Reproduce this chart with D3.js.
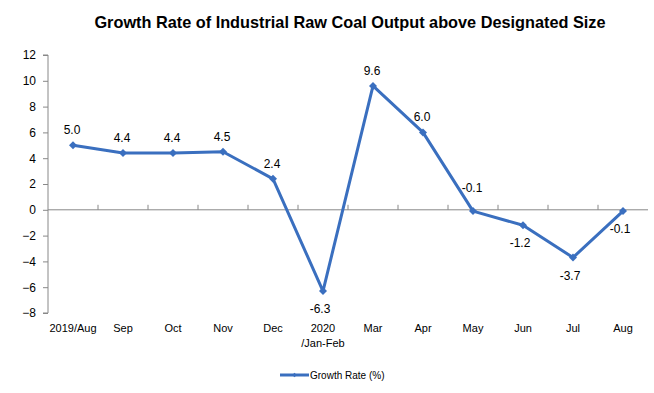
<!DOCTYPE html>
<html>
<head>
	<meta charset="utf-8">
	<title>Growth Rate of Industrial Raw Coal Output</title>
	<script type="text/javascript" src="https://cdn.jsdelivr.net/npm/d3@7"></script>
	<style type="text/css">
		body { margin: 0; background: #fff; }
		text { font-family: "Liberation Sans", Arial, sans-serif; fill: #000; }
		.narrow { font-family: "Liberation Sans Narrow", "Arial Narrow", "Liberation Sans", sans-serif; }
	</style>
</head>
<body>
	<div id="chart"></div>
	<script type="text/javascript">
		// data
		const months = ["2019/Aug", "Sep", "Oct", "Nov", "Dec", "2020\n/Jan-Feb", "Mar", "Apr", "May", "Jun", "Jul", "Aug"];
		const growth = [5.0, 4.4, 4.4, 4.5, 2.4, -6.3, 9.6, 6.0, -0.1, -1.2, -3.7, -0.1];
		// where each value label sits relative to its point
		const labelPlace = ["above", "above", "above", "above", "above", "below", "above", "above", "high", "below", "below", "below"];
		const yTicks = [-8, -6, -4, -2, 0, 2, 4, 6, 8, 10, 12];

		const width = 654, height = 393;
		const margin = {top: 55, right: 6, bottom: 80, left: 48};
		const lineColor = "#3a6fbf";

		const svg = d3.select("#chart").append("svg")
			.attr("width", width)
			.attr("height", height);

		const x = d3.scaleBand()
			.domain(months)
			.range([margin.left, width - margin.right]);

		const y = d3.scaleLinear()
			.domain([-8, 12])
			.range([height - margin.bottom, margin.top]);

		const cx = d => x(d) + x.bandwidth() / 2;

		// title
		svg.append("text")
			.attr("x", 350)
			.attr("y", 28)
			.attr("text-anchor", "middle")
			.attr("font-size", "16.3px")
			.attr("font-weight", "bold")
			.text("Growth Rate of Industrial Raw Coal Output above Designated Size");

		// y axis
		const yAxis = svg.append("g")
			.attr("transform", `translate(${margin.left},0)`)
			.call(d3.axisLeft(y).tickValues(yTicks).tickSize(5).tickPadding(7).tickFormat(d3.format("d")));
		yAxis.select(".domain").attr("stroke", "#888").attr("d", `M-5,${y(-8)}H0V${y(12)}H-5`);
		yAxis.selectAll(".tick line").attr("stroke", "#888");
		yAxis.selectAll(".tick text").attr("font-size", "12px").attr("fill", "#000");

		// zero line with category tick marks
		const zero = svg.append("g")
			.attr("transform", `translate(0,${y(0)})`);
		zero.append("line")
			.attr("x1", margin.left).attr("x2", width - margin.right)
			.attr("stroke", "#888");
		zero.selectAll("line.cat")
			.data(months.slice(1))
			.join("line")
			.attr("class", "cat")
			.attr("x1", d => x(d)).attr("x2", d => x(d))
			.attr("y1", 0).attr("y2", -5)
			.attr("stroke", "#888");

		// category labels at the bottom
		const xLabels = svg.append("g")
			.selectAll("text")
			.data(months)
			.join("text")
			.attr("class", "narrow")
			.attr("x", d => cx(d))
			.attr("y", y(-8) + 19)
			.attr("text-anchor", "middle")
			.attr("font-size", "11px");
		xLabels.each(function (d) {
			const parts = d.split("\n");
			d3.select(this).selectAll("tspan")
				.data(parts)
				.join("tspan")
				.attr("x", cx(d))
				.attr("dy", (p, i) => i === 0 ? 0 : 15)
				.text(p => p);
		});

		// series line
		const line = d3.line()
			.x((d, i) => cx(months[i]))
			.y(d => y(d));

		svg.append("path")
			.datum(growth)
			.attr("fill", "none")
			.attr("stroke", lineColor)
			.attr("stroke-width", 3)
			.attr("stroke-linejoin", "round")
			.attr("d", line);

		const diamond = d3.symbol().type(d3.symbolSquare).size(32);
		svg.append("g")
			.selectAll("path")
			.data(growth)
			.join("path")
			.attr("d", diamond)
			.attr("fill", lineColor)
			.attr("transform", (d, i) => `translate(${cx(months[i])},${y(d)}) rotate(45)`);

		// value labels
		const labelY = (d, i) => {
			if (labelPlace[i] === "below") return y(d) + 22;
			if (labelPlace[i] === "high") return y(d) - 19;
			return y(d) - 11;
		};
		svg.append("g")
			.selectAll("text")
			.data(growth)
			.join("text")
			.attr("x", (d, i) => cx(months[i]) - (labelPlace[i] === "below" ? 3 : 1))
			.attr("y", labelY)
			.attr("text-anchor", "middle")
			.attr("font-size", "12px")
			.text(d => d.toFixed(1));

		// legend
		const legend = svg.append("g")
			.attr("transform", "translate(280,375)");
		legend.append("line")
			.attr("x1", 0).attr("x2", 29)
			.attr("stroke", lineColor)
			.attr("stroke-width", 3);
		legend.append("path")
			.attr("d", d3.symbol().type(d3.symbolSquare).size(10))
			.attr("fill", lineColor)
			.attr("transform", "translate(14.5,0) rotate(45)");
		legend.append("text")
			.attr("class", "narrow")
			.attr("x", 30)
			.attr("y", 4)
			.attr("font-size", "10px")
			.text("Growth Rate (%)");
	</script>
</body>
</html>
